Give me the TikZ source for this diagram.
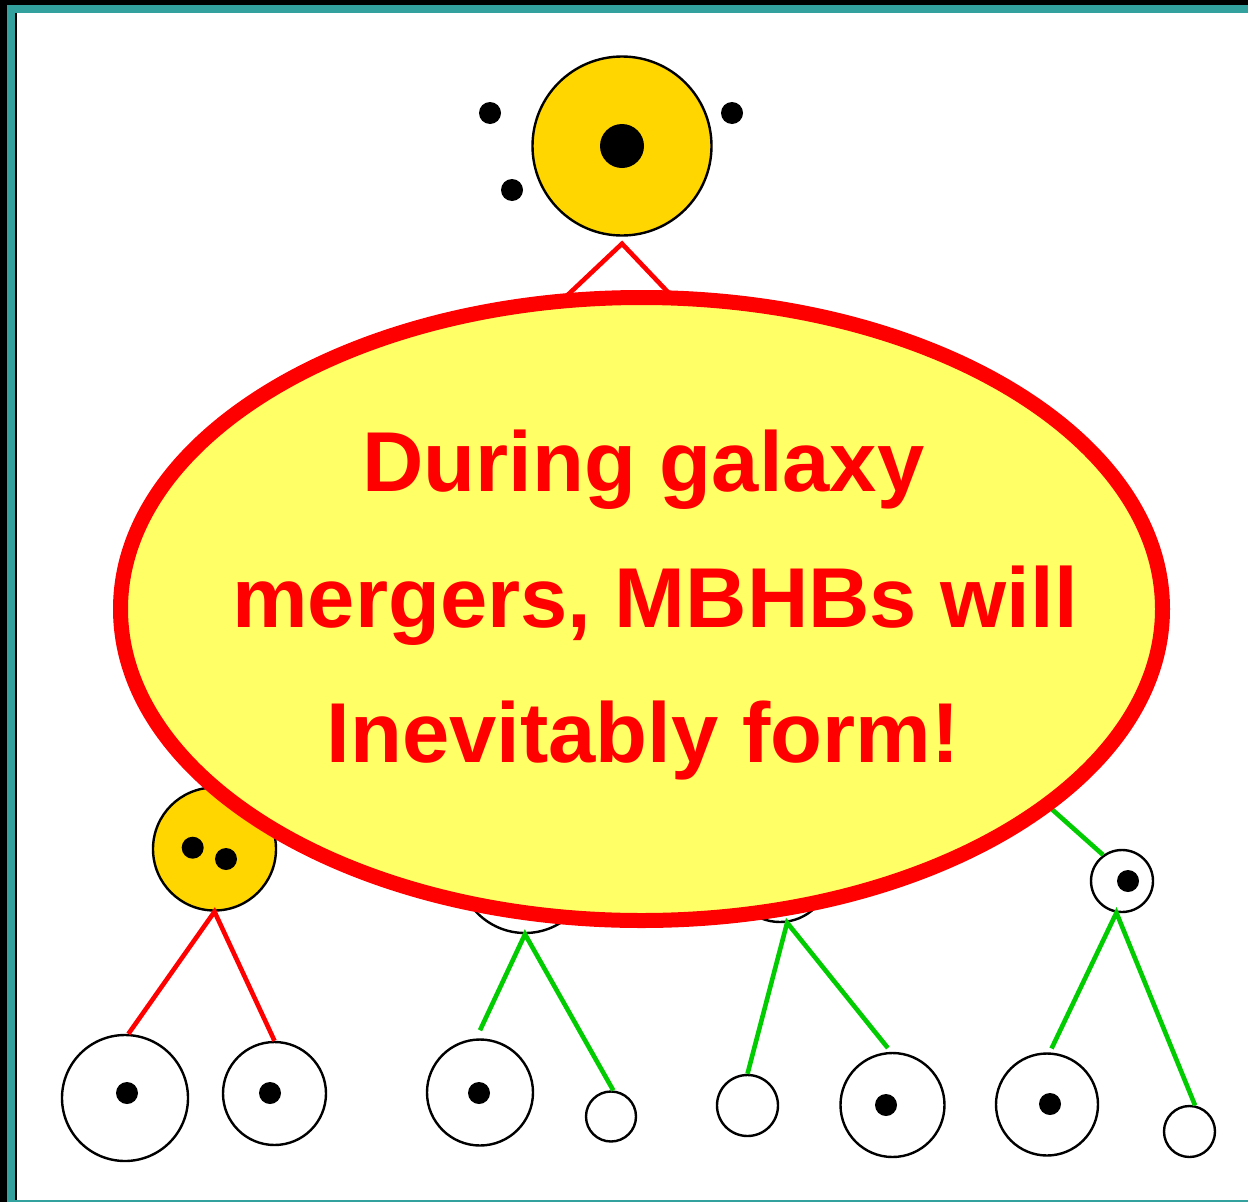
\documentclass[tikz,border=0pt]{standalone}
\usepackage{fontspec}
\setmainfont{Liberation Sans}
\usetikzlibrary{shapes.geometric}
\definecolor{frameteal}{RGB}{51,161,158}
\definecolor{galaxygold}{RGB}{255,214,0}
\definecolor{bubblefill}{RGB}{255,255,102}
\definecolor{mergered}{RGB}{255,0,0}
\definecolor{linkgreen}{RGB}{0,204,0}

\begin{document}
\begin{tikzpicture}[x=1pt,y=-1pt,
  halo/.style={circle,draw=black,line width=2.4pt,inner sep=0pt,minimum size=#1},
  goldhalo/.style={halo=#1,fill=galaxygold},
  plainhalo/.style={halo=#1,fill=white},
  bh/.style={circle,fill=black,inner sep=0pt,minimum size=#1},
  redlink/.style={draw=mergered,line width=4.6pt},
  greenlink/.style={draw=linkgreen,line width=4.6pt},
  caption/.style={text=mergered,font=\bfseries\fontsize{85}{100}\selectfont,anchor=base,inner sep=0pt},
]
\useasboundingbox (0,0) rectangle (1248,1202);
\fill[white] (0,0) rectangle (1248,1202);

% frame
\fill[black] (0,0) rectangle (7,1202);
\fill[black] (0,0) rectangle (1248,5);
\fill[frameteal] (7,5) rectangle (1248,12.5);
\fill[frameteal] (7,5) rectangle (15,1202);
\fill[black] (15,12.5) rectangle (16.7,1199.5);
\fill[frameteal] (15,1199.5) rectangle (1248,1202);

% merged galaxy with its central hole and satellites
\node[goldhalo=179pt] (top) at (622,146) {};
\node[bh=44pt] (topbh) at (622,146) {};
\node[bh=22pt] (sat1) at (490,113) {};
\node[bh=22pt] (sat2) at (732,113) {};
\node[bh=22pt] (sat3) at (512,190) {};

% intermediate generation
\coordinate (hL) at (520,340);
\coordinate (hR) at (720,347);
\coordinate (hG) at (1000,763);
\node[plainhalo=134pt] (hA) at (525,866) {};
\node[plainhalo=100pt] (hB) at (780,872) {};
\node[goldhalo=123pt] (y1) at (214.5,849) {};
\node[bh=22pt] (y1a) at (192.7,847.7) {};
\node[bh=22pt] (y1b) at (226,859) {};
\node[plainhalo=62pt] (rc) at (1122,881) {};
\node[bh=22pt] (rcbh) at (1128,881) {};

% progenitors
\node[plainhalo=126pt] (c1) at (125,1098) {};
\node[bh=22pt] (c1bh) at (127,1093) {};
\node[plainhalo=103pt] (c2) at (274.5,1093.5) {};
\node[bh=22pt] (c2bh) at (270,1093) {};
\node[plainhalo=106pt] (c3) at (480,1092.5) {};
\node[bh=22pt] (c3bh) at (479,1093) {};
\node[plainhalo=50pt] (c4) at (611,1116.5) {};
\node[plainhalo=61pt] (c5) at (747.5,1105.5) {};
\node[plainhalo=104pt] (c6) at (892.5,1105) {};
\node[bh=22pt] (c6bh) at (886,1105) {};
\node[plainhalo=102pt] (c7) at (1047,1104.5) {};
\node[bh=22pt] (c7bh) at (1050,1104) {};
\node[plainhalo=51pt] (c8) at (1189.5,1131.5) {};

% merger tree branches
\draw[redlink] (hL) -- ([yshift=-7pt]top.south) -- (hR);
\draw[redlink] (c1.87) -- (y1.south) -- (c2.north);
\draw[greenlink] ([yshift=8pt]c3.north) -- (hA.south) -- (c4.85);
\draw[greenlink] (c5.north) -- (hB.278) -- ([yshift=4pt]c6.95);
\draw[greenlink] (hG) -- (rc.126);
\draw[greenlink] ([yshift=4pt]c7.85) -- (rc.260) -- (c8.78);

% callout
\node[ellipse,draw=mergered,line width=15pt,fill=bubblefill,inner sep=0pt,
      minimum width=1042pt,minimum height=623pt] (bubble) at (641.5,609) {};
\node[caption] (line1) at (643.5,491) {During galaxy};
\node[caption] (line2) at (655,627) {mergers, MBHBs will};
\node[caption] (line3) at (643,762) {Inevitably form!};
\end{tikzpicture}
\end{document}
